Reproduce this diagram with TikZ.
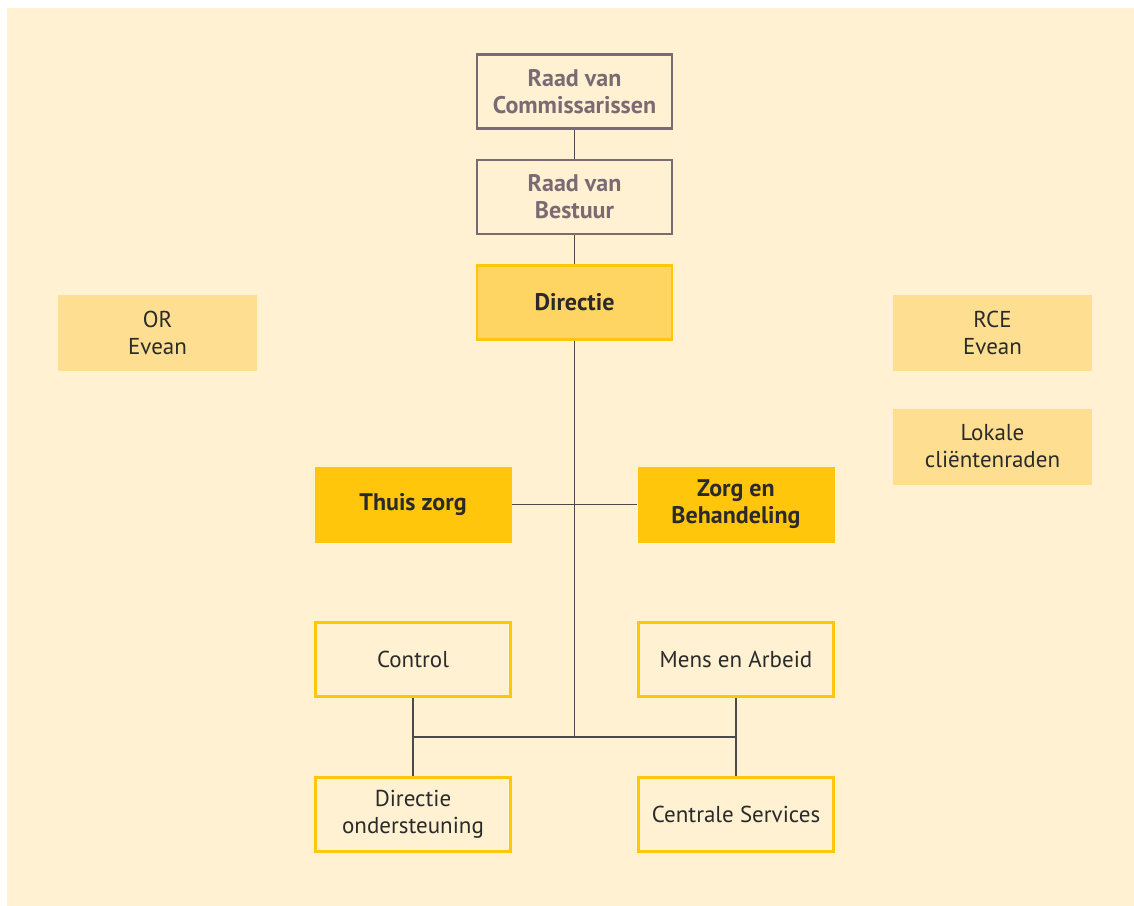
\documentclass[tikz,border=0pt]{standalone}
\usepackage{fontspec}
\setmainfont{PT Sans}
\definecolor{bgcream}{HTML}{FFF1D1}
\definecolor{graybd}{HTML}{7A6A73}
\definecolor{ybd}{HTML}{FFC60B}
\definecolor{dirfill}{HTML}{FED462}
\definecolor{sidefill}{HTML}{FEDE91}
\definecolor{linec}{HTML}{4A4A4A}
\definecolor{txt}{HTML}{2A2A2A}
\begin{document}
\begin{tikzpicture}[x=1pt,y=-1pt,
  base/.style={minimum width=195pt,minimum height=74pt,inner sep=0pt,align=center,
    font=\fontsize{23}{27}\selectfont,text=txt},
  graybox/.style={base,draw=graybd,line width=2.5pt,fill=bgcream,text=graybd,font=\fontsize{24}{27}\selectfont\bfseries},
  dirbox/.style={base,draw=ybd,line width=2.5pt,fill=dirfill,font=\fontsize{24}{27}\selectfont\bfseries},
  unitbox/.style={base,fill=ybd,minimum width=197pt,minimum height=76pt,font=\fontsize{24}{27}\selectfont\bfseries},
  sidebox/.style={base,fill=sidefill,minimum width=199pt,minimum height=76pt},
  staffbox/.style={base,draw=ybd,line width=2.5pt,fill=bgcream},
  conn/.style={draw=linec,line width=1.5pt}]
\useasboundingbox (0,0) rectangle (1134,905);
\fill[white] (-5,-5) rectangle (1140,910);
\fill[bgcream] (7,8) rectangle (1140,910);

\node[graybox] (rvc) at (574.5,91.5) {Raad van\\Commissarissen};
\node[graybox] (rvb) at (574.5,197) {Raad van\\Bestuur};
\node[dirbox] (dir) at (574.5,302.5) {Directie};

\node[sidebox] (or) at (157.5,332.5) {OR\\Evean};
\node[sidebox] (rce) at (992.5,332.5) {RCE\\Evean};
\node[sidebox] (lok) at (992.5,446.5) {Lokale\\cliëntenraden};

\node[unitbox] (thuis) at (413,504.5) {Thuis zorg};
\node[unitbox] (zorg) at (736,504.5) {Zorg en\\Behandeling};

\node[staffbox] (control) at (413,659.5) {Control};
\node[staffbox] (mens) at (736,659.5) {Mens en Arbeid};
\node[staffbox] (dirond) at (413,814.5) {Directie\\ondersteuning};
\node[staffbox] (centr) at (736,814.5) {Centrale Services};

\coordinate (busM) at (574.5,737);
\coordinate (busL) at (control.south |- busM);
\coordinate (busR) at (mens.south |- busM);

\draw[conn] (rvc.south) -- (rvb.north);
\draw[conn] (rvb.south) -- (dir.north);
\draw[conn] (dir.south) -- (busM);
\draw[conn] (thuis.east) -- (zorg.west);
\draw[conn] (control.south) -- (dirond.north);
\draw[conn] (mens.south) -- (centr.north);
\draw[conn] (busL) -- (busR);
\end{tikzpicture}
\end{document}
